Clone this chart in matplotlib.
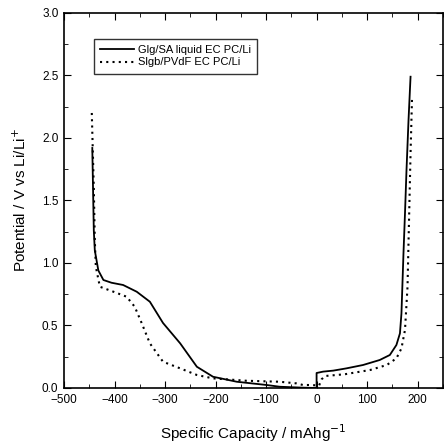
import matplotlib
matplotlib.use('Agg')
import matplotlib.pyplot as plt
from matplotlib.ticker import MultipleLocator

plt.rcParams['font.family'] = ['Liberation Sans', 'DejaVu Sans']

# solid curve: liquid electrolyte
liq_x = [-444, -441, -439, -432, -422, -406, -383, -356, -330, -304, -270, -237, -205, -158, -99, -73, -30, 0,
         0, 13, 33, 59, 92, 125, 145, 158, 165, 168, 172, 175, 178, 182, 186]
liq_y = [1.92, 1.26, 1.10, 0.94, 0.864, 0.842, 0.824, 0.77, 0.69, 0.52, 0.357, 0.17, 0.09, 0.05, 0.024, 0.01, 0.003, 0.0,
         0.12, 0.131, 0.139, 0.157, 0.184, 0.224, 0.264, 0.344, 0.437, 0.597, 1.077, 1.397, 1.744, 2.144, 2.49]

# dotted curve: PVdF gel
gel_x = [-445, -441, -439, -437, -429, -402, -376, -360, -346, -330, -304, -270, -237, -205, -139, -73, -40, -27, -13, 5,
         10, 17, 56, 106, 139, 158, 168, 175, 180, 183, 186, 189]
gel_y = [2.2, 1.6, 1.18, 0.97, 0.81, 0.77, 0.73, 0.65, 0.517, 0.357, 0.21, 0.157, 0.104, 0.077, 0.058, 0.05, 0.037, 0.024, 0.024, 0.02,
         0.07, 0.096, 0.11, 0.144, 0.184, 0.237, 0.317, 0.464, 0.81, 1.344, 1.877, 2.33]

labels = ['Glg/SA liquid EC PC/Li', 'Slgb/PVdF EC PC/Li']

fig = plt.figure(figsize=(4.46, 4.47), dpi=100)
ax = fig.add_axes([0.1435, 0.132, 0.8495, 0.839])

ax.plot(liq_x, liq_y, color='black', lw=1.3, label=labels[0])
ax.plot(gel_x, gel_y, color='black', lw=1.5, ls=(0, (1, 2)), label=labels[1])

ax.set_xlim(-500, 250)
ax.set_ylim(0, 3.0)
ax.xaxis.set_major_locator(MultipleLocator(100))
ax.xaxis.set_minor_locator(MultipleLocator(50))
ax.yaxis.set_major_locator(MultipleLocator(0.5))
ax.yaxis.set_minor_locator(MultipleLocator(0.25))
ax.tick_params(which='both', direction='in', top=True, right=True, labelsize=8.5)
ax.tick_params(which='major', length=5, pad=4)
ax.tick_params(which='minor', length=3)
for s in ax.spines.values():
    s.set_linewidth(1.2)

ax.set_xlabel('Specific Capacity / mAhg$^{-1}$', fontsize=11, labelpad=12)
ax.set_ylabel('Potential / V vs Li/Li$^{+}$', fontsize=11, labelpad=9)

leg = ax.legend(loc='upper left', bbox_to_anchor=(0.065, 0.945), fontsize=8, frameon=True,
                fancybox=False, edgecolor='black', borderpad=0.55, labelspacing=0.2,
                handlelength=3, handletextpad=0.4)
leg.get_frame().set_linewidth(1.0)

fig.savefig('out.png', dpi=100)
